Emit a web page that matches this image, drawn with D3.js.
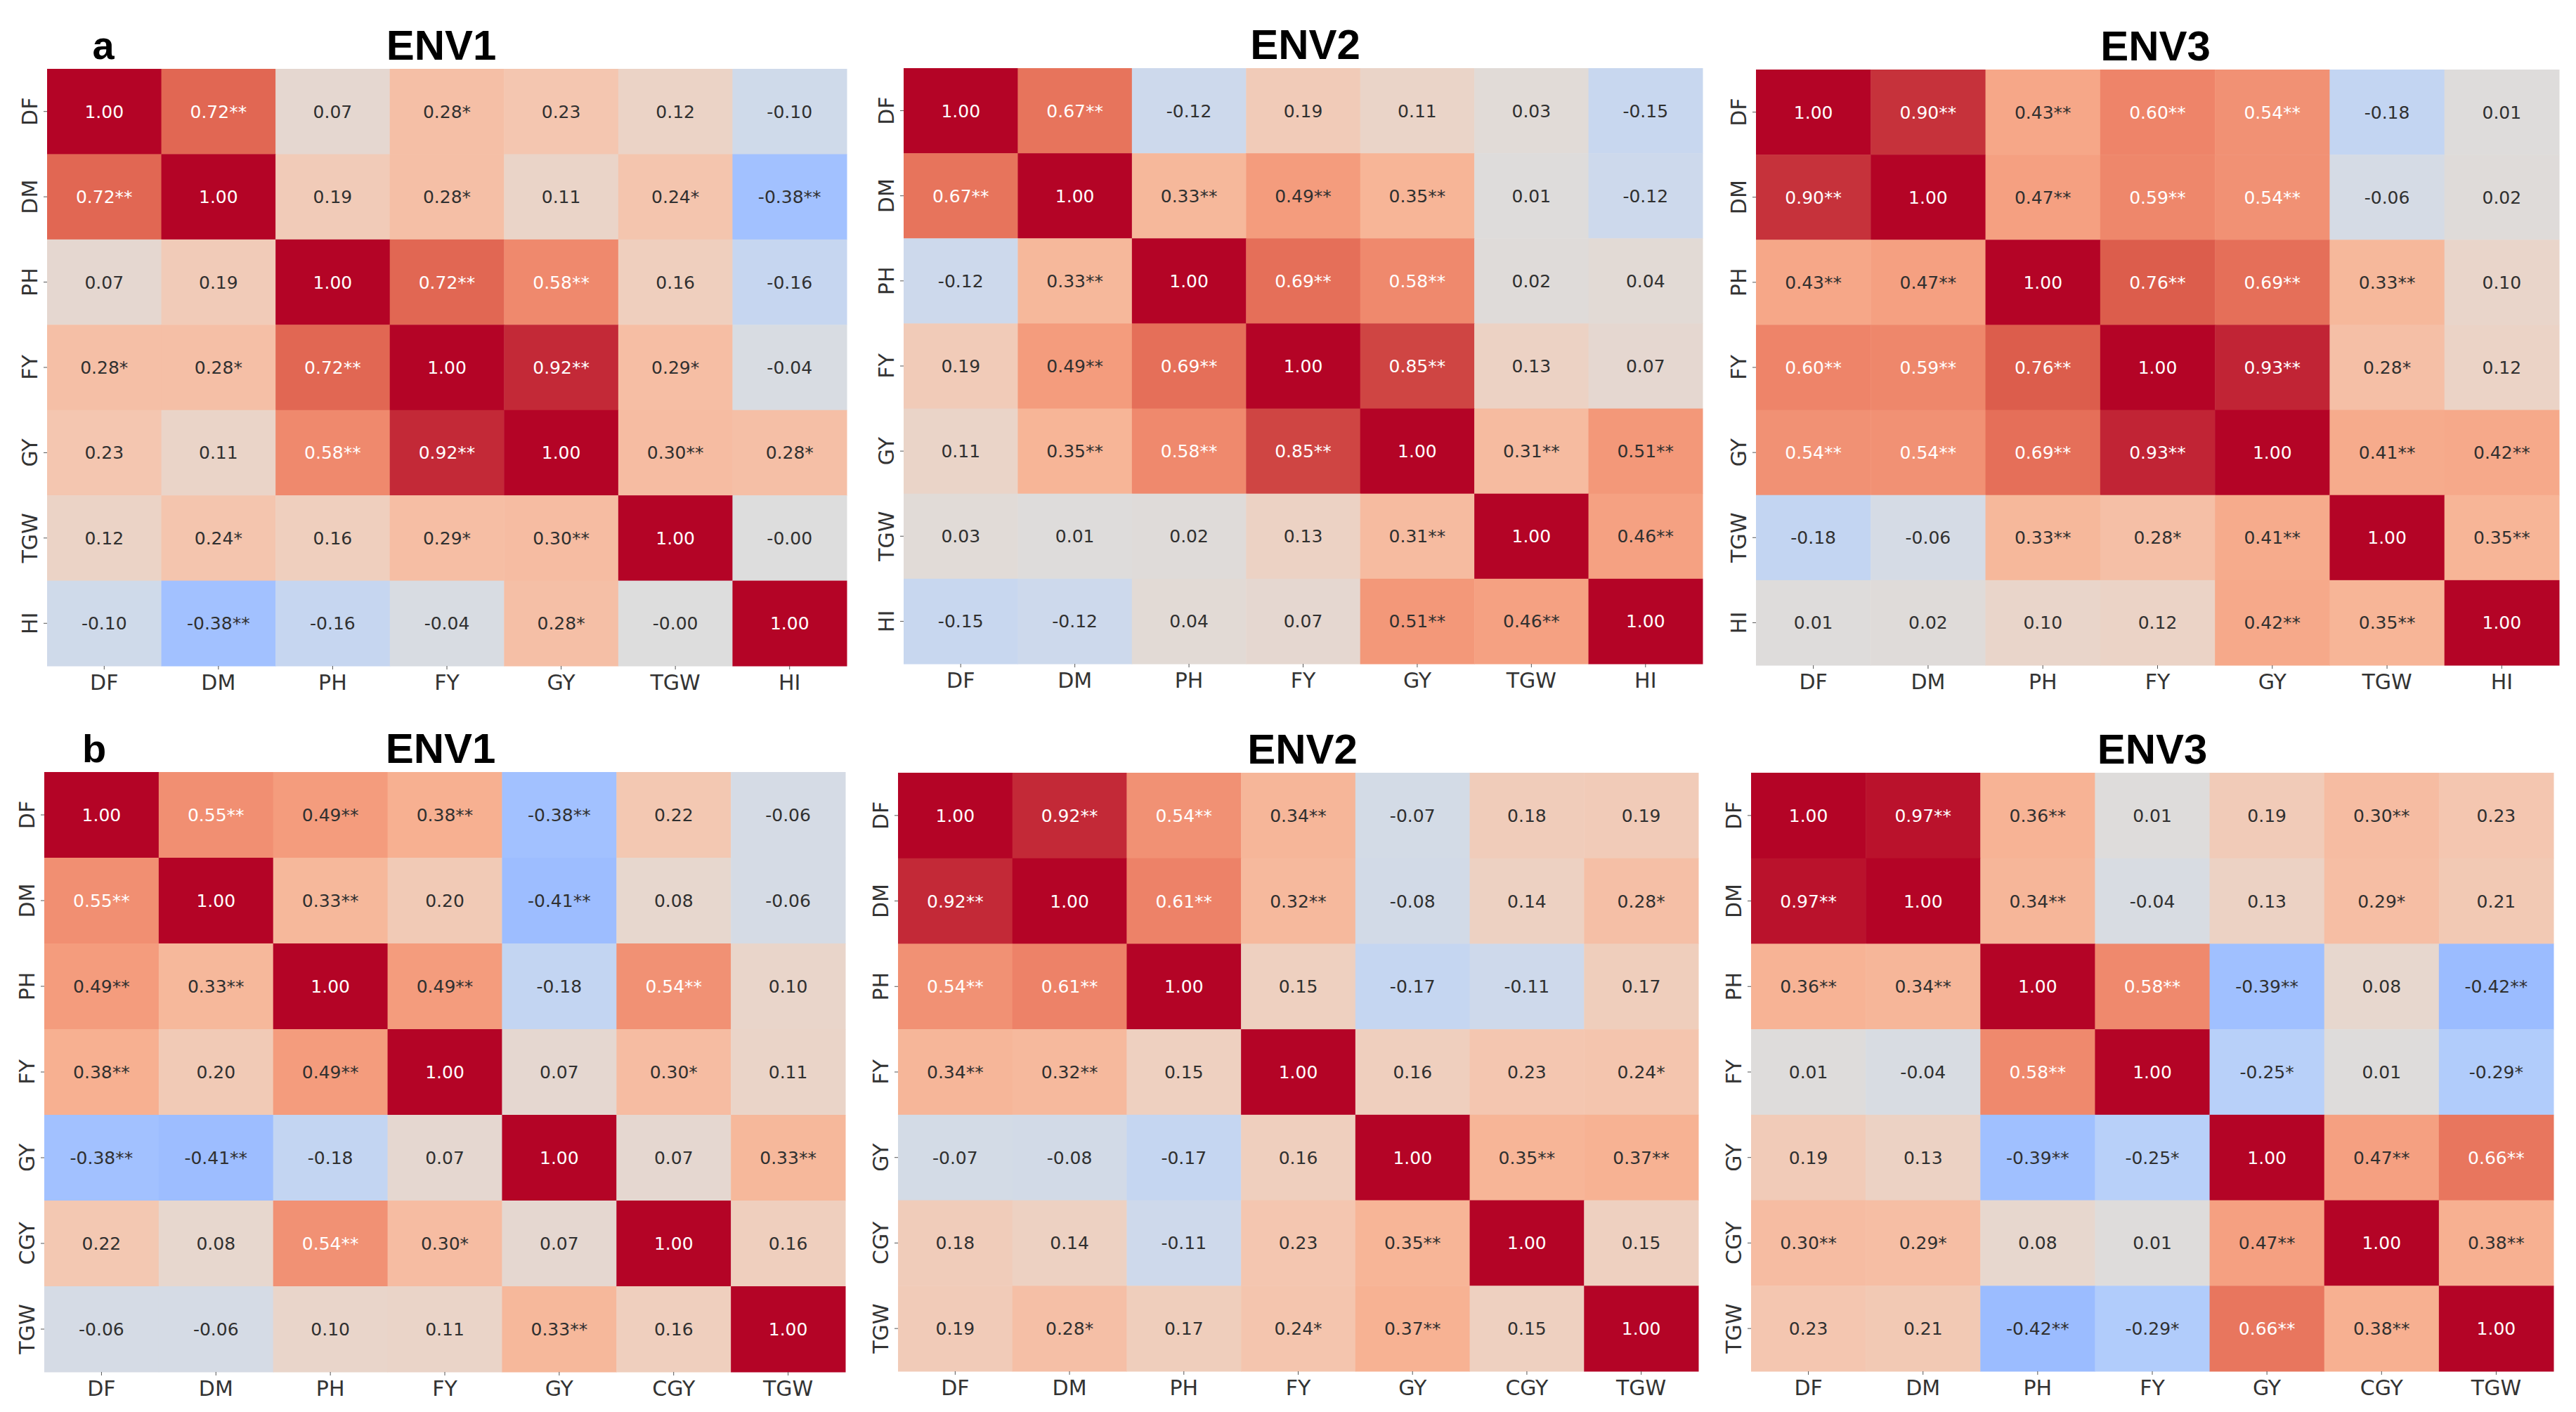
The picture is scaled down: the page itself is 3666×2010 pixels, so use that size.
<!DOCTYPE html>
<html>
<head>
<meta charset="utf-8">
<script src="https://cdn.jsdelivr.net/npm/d3@7"></script>
<style>
  html, body { margin: 0; padding: 0; background: #ffffff; }
  svg { display: block; }
</style>
</head>
<body>
<svg id="chart" width="3666" height="2010"></svg>
<script>
// ---------------- DATA ----------------
const traitsA = ["DF", "DM", "PH", "FY", "GY", "TGW", "HI"];
const traitsB = ["DF", "DM", "PH", "FY", "GY", "CGY", "TGW"];
const panelTitles = ["ENV1", "ENV2", "ENV3"];
const panelLetters = ["a", "b"];

// (a) correlations
const aEnv1 = [
  [1.00, 0.72, 0.07, 0.28, 0.23, 0.12, -0.10],
  [0.72, 1.00, 0.19, 0.28, 0.11, 0.24, -0.38],
  [0.07, 0.19, 1.00, 0.72, 0.58, 0.16, -0.16],
  [0.28, 0.28, 0.72, 1.00, 0.92, 0.29, -0.04],
  [0.23, 0.11, 0.58, 0.92, 1.00, 0.30, 0.28],
  [0.12, 0.24, 0.16, 0.29, 0.30, 1.00, -0.00],
  [-0.10, -0.38, -0.16, -0.04, 0.28, -0.00, 1.00]
];
const aEnv1Sig = [
  [0, 2, 0, 1, 0, 0, 0],
  [2, 0, 0, 1, 0, 1, 2],
  [0, 0, 0, 2, 2, 0, 0],
  [1, 1, 2, 0, 2, 1, 0],
  [0, 0, 2, 2, 0, 2, 1],
  [0, 1, 0, 1, 2, 0, 0],
  [0, 2, 0, 0, 1, 0, 0]
];
const aEnv2 = [
  [1.00, 0.67, -0.12, 0.19, 0.11, 0.03, -0.15],
  [0.67, 1.00, 0.33, 0.49, 0.35, 0.01, -0.12],
  [-0.12, 0.33, 1.00, 0.69, 0.58, 0.02, 0.04],
  [0.19, 0.49, 0.69, 1.00, 0.85, 0.13, 0.07],
  [0.11, 0.35, 0.58, 0.85, 1.00, 0.31, 0.51],
  [0.03, 0.01, 0.02, 0.13, 0.31, 1.00, 0.46],
  [-0.15, -0.12, 0.04, 0.07, 0.51, 0.46, 1.00]
];
const aEnv2Sig = [
  [0, 2, 0, 0, 0, 0, 0],
  [2, 0, 2, 2, 2, 0, 0],
  [0, 2, 0, 2, 2, 0, 0],
  [0, 2, 2, 0, 2, 0, 0],
  [0, 2, 2, 2, 0, 2, 2],
  [0, 0, 0, 0, 2, 0, 2],
  [0, 0, 0, 0, 2, 2, 0]
];
const aEnv3 = [
  [1.00, 0.90, 0.43, 0.60, 0.54, -0.18, 0.01],
  [0.90, 1.00, 0.47, 0.59, 0.54, -0.06, 0.02],
  [0.43, 0.47, 1.00, 0.76, 0.69, 0.33, 0.10],
  [0.60, 0.59, 0.76, 1.00, 0.93, 0.28, 0.12],
  [0.54, 0.54, 0.69, 0.93, 1.00, 0.41, 0.42],
  [-0.18, -0.06, 0.33, 0.28, 0.41, 1.00, 0.35],
  [0.01, 0.02, 0.10, 0.12, 0.42, 0.35, 1.00]
];
const aEnv3Sig = [
  [0, 2, 2, 2, 2, 0, 0],
  [2, 0, 2, 2, 2, 0, 0],
  [2, 2, 0, 2, 2, 2, 0],
  [2, 2, 2, 0, 2, 1, 0],
  [2, 2, 2, 2, 0, 2, 2],
  [0, 0, 2, 1, 2, 0, 2],
  [0, 0, 0, 0, 2, 2, 0]
];

// (b) correlations
const bEnv1 = [
  [1.00, 0.55, 0.49, 0.38, -0.38, 0.22, -0.06],
  [0.55, 1.00, 0.33, 0.20, -0.41, 0.08, -0.06],
  [0.49, 0.33, 1.00, 0.49, -0.18, 0.54, 0.10],
  [0.38, 0.20, 0.49, 1.00, 0.07, 0.30, 0.11],
  [-0.38, -0.41, -0.18, 0.07, 1.00, 0.07, 0.33],
  [0.22, 0.08, 0.54, 0.30, 0.07, 1.00, 0.16],
  [-0.06, -0.06, 0.10, 0.11, 0.33, 0.16, 1.00]
];
const bEnv1Sig = [
  [0, 2, 2, 2, 2, 0, 0],
  [2, 0, 2, 0, 2, 0, 0],
  [2, 2, 0, 2, 0, 2, 0],
  [2, 0, 2, 0, 0, 1, 0],
  [2, 2, 0, 0, 0, 0, 2],
  [0, 0, 2, 1, 0, 0, 0],
  [0, 0, 0, 0, 2, 0, 0]
];
const bEnv2 = [
  [1.00, 0.92, 0.54, 0.34, -0.07, 0.18, 0.19],
  [0.92, 1.00, 0.61, 0.32, -0.08, 0.14, 0.28],
  [0.54, 0.61, 1.00, 0.15, -0.17, -0.11, 0.17],
  [0.34, 0.32, 0.15, 1.00, 0.16, 0.23, 0.24],
  [-0.07, -0.08, -0.17, 0.16, 1.00, 0.35, 0.37],
  [0.18, 0.14, -0.11, 0.23, 0.35, 1.00, 0.15],
  [0.19, 0.28, 0.17, 0.24, 0.37, 0.15, 1.00]
];
const bEnv2Sig = [
  [0, 2, 2, 2, 0, 0, 0],
  [2, 0, 2, 2, 0, 0, 1],
  [2, 2, 0, 0, 0, 0, 0],
  [2, 2, 0, 0, 0, 0, 1],
  [0, 0, 0, 0, 0, 2, 2],
  [0, 0, 0, 0, 2, 0, 0],
  [0, 1, 0, 1, 2, 0, 0]
];
const bEnv3 = [
  [1.00, 0.97, 0.36, 0.01, 0.19, 0.30, 0.23],
  [0.97, 1.00, 0.34, -0.04, 0.13, 0.29, 0.21],
  [0.36, 0.34, 1.00, 0.58, -0.39, 0.08, -0.42],
  [0.01, -0.04, 0.58, 1.00, -0.25, 0.01, -0.29],
  [0.19, 0.13, -0.39, -0.25, 1.00, 0.47, 0.66],
  [0.30, 0.29, 0.08, 0.01, 0.47, 1.00, 0.38],
  [0.23, 0.21, -0.42, -0.29, 0.66, 0.38, 1.00]
];
const bEnv3Sig = [
  [0, 2, 2, 0, 0, 2, 0],
  [2, 0, 2, 0, 0, 1, 0],
  [2, 2, 0, 2, 2, 0, 2],
  [0, 0, 2, 0, 1, 0, 1],
  [0, 0, 2, 1, 0, 2, 2],
  [2, 1, 0, 0, 2, 0, 2],
  [0, 0, 2, 1, 2, 2, 0]
];

// ---------------- COLORMAP (matplotlib coolwarm samples) ----------------
const coolwarmStops = [
  "rgb(59,76,192)", "rgb(77,104,215)", "rgb(98,130,234)", "rgb(119,154,247)",
  "rgb(141,176,254)", "rgb(163,194,255)", "rgb(184,208,249)", "rgb(204,217,237)",
  "rgb(221,221,221)", "rgb(236,211,197)", "rgb(245,196,172)", "rgb(247,177,146)",
  "rgb(244,154,123)", "rgb(236,127,101)", "rgb(222,96,77)", "rgb(203,62,64)",
  "rgb(180,4,38)"
];
const color = d3.scaleLinear()
  .domain(d3.range(coolwarmStops.length).map(i => -1 + 2 * i / (coolwarmStops.length - 1)))
  .range(coolwarmStops)
  .interpolate(d3.interpolateRgb)
  .clamp(true);

// ---------------- LAYOUT ----------------
const rows = [
  { letter: panelLetters[0], labels: traitsA, letterPos: [147, 84],
    panels: [
      { values: aEnv1, sig: aEnv1Sig, box: [67, 98, 1205, 948], titleShift: -8 },
      { values: aEnv2, sig: aEnv2Sig, box: [1286, 97, 2423, 945], titleShift: 3 },
      { values: aEnv3, sig: aEnv3Sig, box: [2499, 99, 3642, 947], titleShift: -3 }
    ] },
  { letter: panelLetters[1], labels: traitsB, letterPos: [134, 1085],
    panels: [
      { values: bEnv1, sig: bEnv1Sig, box: [63, 1099, 1203, 1953], titleShift: -6 },
      { values: bEnv2, sig: bEnv2Sig, box: [1278, 1100, 2417, 1952], titleShift: 6 },
      { values: bEnv3, sig: bEnv3Sig, box: [2492, 1100, 3634, 1952], titleShift: 0 }
    ] }
];

const svg = d3.select("#chart");
svg.append("rect").attr("width", 3666).attr("height", 2010).attr("fill", "#ffffff");

function fmt(v) {
  const neg = v < 0 || Object.is(v, -0);
  return (neg ? "-" : "") + Math.abs(v).toFixed(2);
}

rows.forEach(row => {
  svg.append("text")
    .attr("x", row.letterPos[0]).attr("y", row.letterPos[1])
    .attr("text-anchor", "middle")
    .attr("font-family", "'Liberation Sans', Arial, sans-serif")
    .attr("font-weight", "bold")
    .attr("font-size", 56)
    .attr("fill", "#000")
    .text(row.letter);

  row.panels.forEach((p, pi) => {
    const [x0, y0, x1, y1] = p.box;
    const x = d3.scaleBand().domain(row.labels).range([x0, x1]).padding(0);
    const y = d3.scaleBand().domain(row.labels).range([y0, y1]).padding(0);
    const g = svg.append("g");

    const cells = [];
    p.values.forEach((r, i) => r.forEach((v, j) => cells.push({ i, j, v, s: p.sig[i][j] })));

    g.selectAll("rect.cell").data(cells).enter().append("rect")
      .attr("class", "cell")
      .attr("x", d => x(row.labels[d.j]))
      .attr("y", d => y(row.labels[d.i]))
      .attr("width", x.bandwidth() + 0.5)
      .attr("height", y.bandwidth() + 0.5)
      .attr("fill", d => color(d.v));

    g.selectAll("text.ann").data(cells).enter().append("text")
      .attr("class", "ann")
      .attr("x", d => x(row.labels[d.j]) + x.bandwidth() / 2)
      .attr("y", d => y(row.labels[d.i]) + y.bandwidth() / 2)
      .attr("dy", "0.36em")
      .attr("text-anchor", "middle")
      .attr("font-family", "'DejaVu Sans', sans-serif")
      .attr("font-size", 25)
      .attr("fill", d => d.v > 0.52 ? "#ffffff" : "#303030")
      .text(d => fmt(d.v) + "*".repeat(d.s));

    // x axis
    const xa = svg.append("g")
      .attr("transform", `translate(0,${y1})`)
      .call(d3.axisBottom(x).tickSize(5).tickPadding(8));
    xa.select(".domain").remove();
    xa.selectAll("line").attr("stroke", "#555");
    xa.selectAll("text")
      .attr("font-family", "'DejaVu Sans', sans-serif")
      .attr("font-size", 30)
      .attr("fill", "#333");

    // y axis
    const ya = svg.append("g")
      .attr("transform", `translate(${x0},0)`)
      .call(d3.axisLeft(y).tickSize(5).tickPadding(8));
    ya.select(".domain").remove();
    ya.selectAll("line").attr("stroke", "#555");
    ya.selectAll("text")
      .attr("x", 0).attr("y", -14).attr("dy", 0)
      .attr("transform", "rotate(-90)")
      .attr("text-anchor", "middle")
      .attr("font-family", "'DejaVu Sans', sans-serif")
      .attr("font-size", 30)
      .attr("fill", "#333");

    // title
    svg.append("text")
      .attr("x", (x0 + x1) / 2 + p.titleShift)
      .attr("y", y0 - 13)
      .attr("text-anchor", "middle")
      .attr("font-family", "'Liberation Sans', Arial, sans-serif")
      .attr("font-weight", "bold")
      .attr("font-size", 60)
      .attr("fill", "#000")
      .text(panelTitles[pi]);
  });
});
</script>
</body>
</html>
